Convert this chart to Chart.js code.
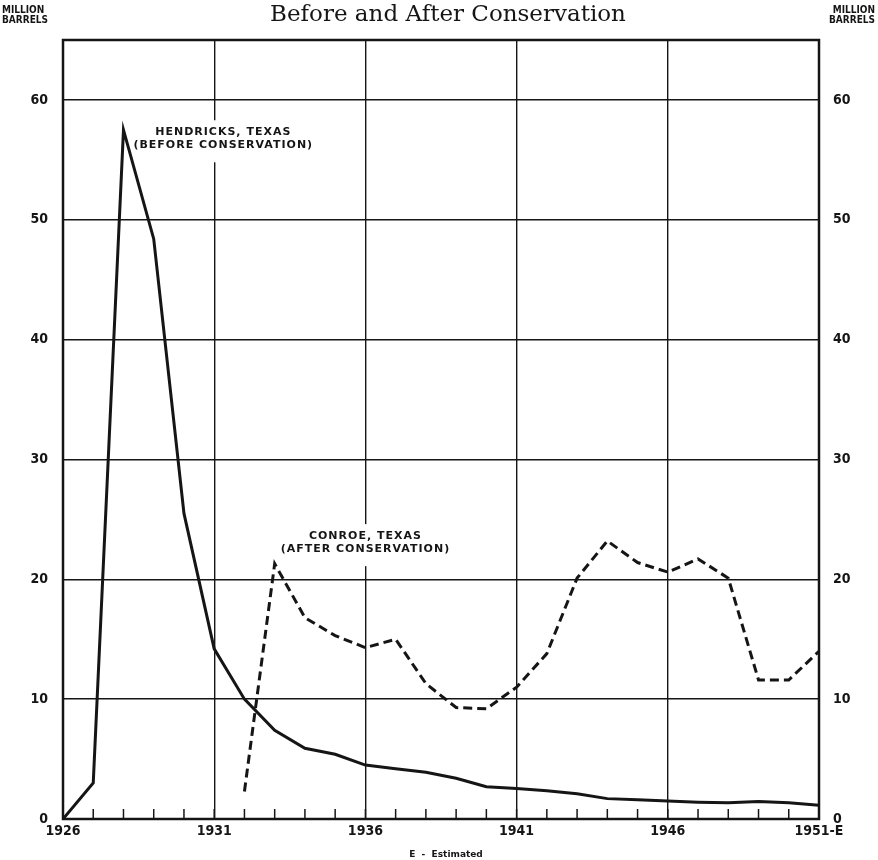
<!DOCTYPE html>
<html>
<head>
<meta charset="utf-8">
<title>Hendricks and Conroe production</title>
<script src="https://cdn.jsdelivr.net/npm/chart.js@4/dist/chart.umd.min.js"></script>
<style>
    body { margin: 0; background: #ffffff; }
    canvas { display: block; }
</style>
</head>
<body>
<canvas id="chart_fields" width="878" height="860"></canvas>
<script>
// yearly production, million barrels
const years     = [1926, 1927, 1928, 1929, 1930, 1931, 1932, 1933, 1934, 1935, 1936, 1937, 1938,
                   1939, 1940, 1941, 1942, 1943, 1944, 1945, 1946, 1947, 1948, 1949, 1950, 1951];
const hendricks = [0, 3.0, 57.5, 48.4, 25.5, 14.2, 10.0, 7.4, 5.9, 5.4, 4.5, 4.2, 3.9,
                   3.4, 2.7, 2.55, 2.35, 2.1, 1.7, 1.6, 1.5, 1.4, 1.35, 1.45, 1.35, 1.15];
const conroe    = [null, null, null, null, null, null, 2.3, 21.3, 16.8, 15.3, 14.3, 15.0, 11.3,
                   9.3, 9.2, 11.0, 13.8, 20.1, 23.2, 21.4, 20.6, 21.7, 20.1, 11.6, 11.6, 14.0];
const yearLabels = {1926: '1926', 1931: '1931', 1936: '1936', 1941: '1941', 1946: '1946', 1951: '1951-E'};

const ink = '#151515';
const tickFont = {family: '"DejaVu Sans Condensed", "DejaVu Sans", sans-serif', weight: 'bold', size: 14};

const notes = [
    {x: 1931.3, y: 56.8, lines: ['HENDRICKS, TEXAS', '(BEFORE CONSERVATION)']},
    {x: 1936.0, y: 23.1, lines: ['CONROE, TEXAS', '(AFTER CONSERVATION)']},
];

const paperPlugin = {
    id: 'paper',
    beforeDatasetsDraw(chart) {
        const {ctx, chartArea: a, scales: {x, y}} = chart;
        ctx.save();
        ctx.strokeStyle = ink;

        // small year ticks standing on the base line
        ctx.lineWidth = 1.5;
        years.forEach(yr => {
            const px = x.getPixelForValue(yr);
            ctx.beginPath();
            ctx.moveTo(px, a.bottom);
            ctx.lineTo(px, a.bottom - 10);
            ctx.stroke();
        });

        ctx.lineWidth = 2.5;
        ctx.strokeRect(a.left, a.top, a.width, a.height);

        // field names, on white so the grid breaks behind them
        ctx.font = 'bold 11px "DejaVu Sans", sans-serif';
        ctx.letterSpacing = '1px';
        ctx.textAlign = 'center';
        ctx.textBaseline = 'middle';
        notes.forEach(n => {
            const cx = x.getPixelForValue(n.x);
            const cy = y.getPixelForValue(n.y);
            const w = Math.max(...n.lines.map(l => ctx.measureText(l).width)) + 12;
            ctx.fillStyle = '#ffffff';
            ctx.fillRect(cx - w / 2, cy - 18, w, 42);
            ctx.fillStyle = ink;
            n.lines.forEach((l, i) => ctx.fillText(l, cx, cy - 6 + i * 13));
        });
        ctx.restore();
    },
    afterDraw(chart) {
        const {ctx, width} = chart;
        ctx.save();
        ctx.fillStyle = ink;
        ctx.textBaseline = 'alphabetic';

        ctx.textAlign = 'center';
        ctx.font = '23px "DejaVu Serif", serif';
        ctx.fillText('Before and After Conservation', 448, 21);

        ctx.font = 'bold 10px "DejaVu Sans Condensed", sans-serif';
        ctx.textAlign = 'left';
        ctx.fillText('MILLION', 2, 13);
        ctx.fillText('BARRELS', 2, 23);
        ctx.textAlign = 'right';
        ctx.fillText('MILLION', width - 3, 13);
        ctx.fillText('BARRELS', width - 3, 23);

        ctx.textAlign = 'center';
        ctx.font = 'bold 9px "DejaVu Sans", sans-serif';
        ctx.fillText('E  -  Estimated', 446, 857);
        ctx.restore();
    },
};

function showFields() {
    return new Chart(document.getElementById('chart_fields'), {
        type   : 'line',
        data   : {
            datasets: [
                {
                    label      : 'Hendricks, Texas',
                    data       : years.map((yr, i) => ({x: yr, y: hendricks[i]})),
                    borderColor: ink,
                    borderWidth: 3,
                },
                {
                    label      : 'Conroe, Texas',
                    data       : years.map((yr, i) => ({x: yr, y: conroe[i]})),
                    borderColor: ink,
                    borderWidth: 3,
                    borderDash : [9, 5],
                },
            ],
        },
        options: {
            responsive : false,
            animation  : false,
            devicePixelRatio: 1,
            layout     : {padding: {top: 40, left: 0, right: 0, bottom: 0}},
            elements   : {point: {radius: 0}, line: {tension: 0}},
            plugins    : {
                legend : {display: false},
                title  : {display: false},
                tooltip: {enabled: false},
            },
            scales     : {
                x : {
                    type  : 'linear',
                    min   : 1926,
                    max   : 1951,
                    ticks : {
                        stepSize   : 1,
                        autoSkip   : false,
                        maxRotation: 0,
                        padding    : 4,
                        color      : ink,
                        font       : tickFont,
                        callback   : v => yearLabels[v] || '',
                    },
                    grid  : {
                        color    : c => (c.tick && yearLabels[c.tick.value]) ? ink : 'rgba(0,0,0,0)',
                        lineWidth: 1.4,
                        drawTicks: false,
                    },
                    border: {display: false},
                    afterFit(s) { s.height = 41; },
                },
                y : {
                    position: 'left',
                    min     : 0,
                    max     : 65,
                    ticks   : {stepSize: 10, includeBounds: false, padding: 15, color: ink, font: tickFont},
                    grid    : {color: ink, lineWidth: 1.4, drawTicks: false},
                    border  : {display: false},
                    afterFit(s) { s.width = 63; },
                },
                y2: {
                    position: 'right',
                    min     : 0,
                    max     : 65,
                    ticks   : {stepSize: 10, includeBounds: false, padding: 14, color: ink, font: tickFont},
                    grid    : {drawOnChartArea: false, drawTicks: false},
                    border  : {display: false},
                    afterFit(s) { s.width = 59; },
                },
            },
        },
        plugins: [paperPlugin],
    });
}

showFields();
</script>
</body>
</html>
